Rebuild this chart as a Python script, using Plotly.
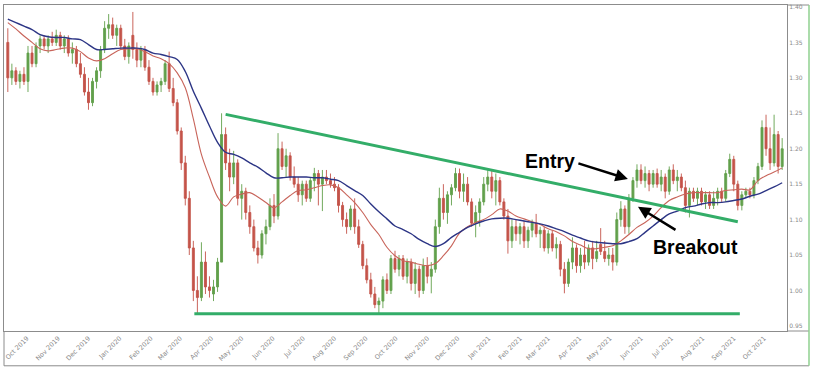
import plotly.graph_objects as go
import pandas as pd

# ---------------- data ----------------
opens = [1.35,1.30,1.31,1.295,1.305,1.295,1.335,1.32,1.345,1.355,
         1.345,1.355,1.35,1.36,1.345,1.355,1.335,1.34,1.32,1.305,
         1.28,1.265,1.295,1.31,1.34,1.37,1.375,1.36,1.37,1.345,
         1.33,1.36,1.34,1.325,1.34,1.315,1.295,1.28,1.29,1.295,
         1.32,1.285,1.265,1.225,1.18,1.13,1.06,1.0,0.99,1.04,
         1.005,0.995,1.005,1.04,1.22,1.18,1.16,1.18,1.13,1.14,
         1.11,1.09,1.06,1.05,1.08,1.09,1.12,1.105,1.20,1.175,
         1.19,1.16,1.15,1.135,1.15,1.13,1.155,1.165,1.15,1.16,
         1.155,1.15,1.145,1.12,1.10,1.09,1.115,1.09,1.065,1.035,
         1.015,0.995,0.98,0.985,1.015,1.0,1.045,1.03,1.045,1.02,
         1.04,1.01,1.03,1.0,1.035,1.02,1.03,1.09,1.13,1.11,
         1.135,1.145,1.165,1.14,1.15,1.125,1.095,1.11,1.125,1.15,
         1.16,1.14,1.155,1.125,1.105,1.07,1.09,1.08,1.09,1.07,
         1.085,1.095,1.08,1.085,1.06,1.08,1.06,1.065,1.03,1.01,
         1.04,1.06,1.035,1.05,1.04,1.06,1.045,1.065,1.055,1.045,
         1.05,1.04,1.10,1.115,1.09,1.13,1.155,1.17,1.155,1.165,
         1.15,1.165,1.15,1.16,1.14,1.17,1.155,1.16,1.145,1.12,
         1.14,1.13,1.14,1.125,1.135,1.12,1.13,1.14,1.13,1.165,
         1.185,1.15,1.12,1.135,1.14,1.135,1.155,1.175,1.23,1.20,
         1.18,1.22,1.175]
highs = [1.37,1.32,1.315,1.31,1.315,1.345,1.345,1.35,1.36,1.36,
         1.36,1.365,1.368,1.365,1.36,1.36,1.35,1.345,1.335,1.315,
         1.30,1.30,1.315,1.345,1.38,1.39,1.385,1.375,1.375,1.355,
         1.35,1.393,1.35,1.345,1.345,1.325,1.30,1.295,1.30,1.325,
         1.337,1.30,1.27,1.23,1.19,1.14,1.07,1.02,1.068,1.055,
         1.02,1.015,1.046,1.25,1.23,1.20,1.197,1.185,1.15,1.145,
         1.12,1.10,1.07,1.085,1.10,1.13,1.136,1.222,1.21,1.20,
         1.195,1.175,1.16,1.155,1.155,1.16,1.173,1.17,1.17,1.17,
         1.165,1.16,1.15,1.125,1.11,1.12,1.13,1.10,1.07,1.045,
         1.025,1.005,0.99,1.02,1.024,1.05,1.056,1.05,1.05,1.045,
         1.045,1.04,1.035,1.045,1.047,1.04,1.10,1.145,1.15,1.14,
         1.15,1.173,1.172,1.165,1.16,1.13,1.12,1.13,1.16,1.171,
         1.17,1.165,1.16,1.13,1.115,1.10,1.10,1.095,1.098,1.09,
         1.10,1.108,1.09,1.09,1.085,1.085,1.075,1.07,1.04,1.045,
         1.075,1.065,1.06,1.07,1.065,1.07,1.07,1.088,1.07,1.06,
         1.06,1.11,1.126,1.12,1.136,1.16,1.178,1.178,1.175,1.17,
         1.17,1.172,1.17,1.165,1.175,1.178,1.17,1.165,1.155,1.145,
         1.145,1.145,1.145,1.14,1.14,1.14,1.145,1.145,1.17,1.193,
         1.19,1.155,1.14,1.145,1.145,1.16,1.18,1.24,1.248,1.23,
         1.248,1.225,1.215]
lows = [1.28,1.29,1.29,1.285,1.29,1.28,1.315,1.315,1.335,1.34,
        1.335,1.345,1.345,1.34,1.335,1.33,1.32,1.315,1.30,1.275,
        1.255,1.26,1.285,1.30,1.335,1.355,1.355,1.345,1.34,1.325,
        1.32,1.327,1.315,1.315,1.31,1.29,1.275,1.275,1.28,1.29,
        1.28,1.26,1.22,1.17,1.12,1.05,0.985,0.968,0.985,0.995,
        0.99,0.985,0.998,1.04,1.17,1.14,1.15,1.12,1.10,1.10,
        1.08,1.055,1.038,1.045,1.065,1.085,1.095,1.10,1.17,1.16,
        1.155,1.145,1.125,1.12,1.125,1.125,1.14,1.12,1.112,1.15,
        1.145,1.14,1.11,1.09,1.08,1.085,1.08,1.06,1.03,1.01,
        0.99,0.975,0.968,0.975,0.995,0.995,1.025,1.02,1.015,1.01,
        1.0,0.995,0.99,0.995,1.01,0.996,1.025,1.08,1.10,1.094,
        1.12,1.14,1.13,1.125,1.12,1.09,1.075,1.09,1.12,1.14,
        1.13,1.12,1.12,1.10,1.052,1.06,1.07,1.065,1.06,1.06,
        1.075,1.075,1.06,1.055,1.052,1.055,1.045,1.02,0.996,1.005,
        1.03,1.025,1.025,1.03,1.035,1.03,1.04,1.05,1.04,1.035,
        1.028,1.035,1.09,1.08,1.08,1.125,1.145,1.15,1.145,1.14,
        1.145,1.145,1.14,1.13,1.135,1.15,1.14,1.14,1.11,1.103,
        1.125,1.12,1.12,1.115,1.115,1.115,1.12,1.125,1.125,1.16,
        1.14,1.113,1.113,1.13,1.13,1.13,1.15,1.17,1.19,1.17,
        1.175,1.165,1.17]
closes = [1.30,1.31,1.295,1.305,1.295,1.335,1.32,1.345,1.355,1.345,
          1.355,1.35,1.36,1.345,1.355,1.335,1.34,1.32,1.305,1.28,
          1.265,1.295,1.31,1.34,1.37,1.375,1.36,1.37,1.345,1.33,
          1.345,1.34,1.325,1.34,1.315,1.295,1.28,1.29,1.295,1.32,
          1.285,1.265,1.225,1.18,1.13,1.06,1.0,0.99,1.04,1.005,
          1.0,1.005,1.04,1.22,1.18,1.16,1.18,1.13,1.14,1.11,
          1.09,1.06,1.05,1.08,1.09,1.12,1.105,1.20,1.175,1.19,
          1.16,1.15,1.135,1.15,1.13,1.155,1.165,1.15,1.16,1.155,
          1.15,1.145,1.12,1.10,1.09,1.115,1.09,1.065,1.035,1.015,
          0.995,0.98,0.985,1.015,1.0,1.045,1.03,1.045,1.02,1.04,
          1.01,1.03,1.0,1.035,1.02,1.03,1.09,1.13,1.11,1.135,
          1.145,1.165,1.14,1.15,1.125,1.095,1.11,1.125,1.15,1.16,
          1.14,1.155,1.125,1.105,1.07,1.09,1.08,1.09,1.07,1.085,
          1.095,1.08,1.085,1.06,1.08,1.06,1.065,1.03,1.01,1.04,
          1.06,1.035,1.05,1.04,1.06,1.045,1.055,1.055,1.045,1.05,
          1.04,1.10,1.115,1.09,1.13,1.155,1.17,1.155,1.165,1.15,
          1.165,1.15,1.16,1.14,1.17,1.155,1.16,1.145,1.12,1.14,
          1.13,1.14,1.125,1.135,1.12,1.13,1.14,1.13,1.165,1.185,
          1.15,1.12,1.135,1.14,1.135,1.155,1.175,1.23,1.20,1.18,
          1.22,1.175,1.20]

# fast (red) and slow (blue) moving averages, sampled every second bar
ma_fast = [1.378,1.369,1.359,1.350,1.341,1.338,1.340,1.342,1.342,1.337,
           1.328,1.324,1.327,1.334,1.340,1.341,1.341,1.337,1.331,1.327,
           1.320,1.307,1.286,1.242,1.192,1.160,1.132,1.119,1.132,1.136,
           1.138,1.132,1.124,1.117,1.125,1.134,1.141,1.142,1.145,1.148,
           1.149,1.145,1.135,1.124,1.110,1.093,1.079,1.061,1.049,1.042,
           1.040,1.037,1.035,1.038,1.049,1.063,1.081,1.090,1.096,1.100,
           1.107,1.115,1.112,1.105,1.101,1.097,1.093,1.087,1.083,1.077,
           1.069,1.064,1.059,1.059,1.061,1.063,1.070,1.079,1.089,1.096,
           1.105,1.117,1.127,1.132,1.136,1.138,1.138,1.138,1.138,1.141,
           1.142,1.143,1.142,1.155,1.162,1.167,1.173]
ma_slow = [1.383,1.378,1.373,1.368,1.361,1.358,1.357,1.357,1.355,1.354,
           1.347,1.340,1.340,1.341,1.342,1.342,1.342,1.340,1.335,1.333,
           1.330,1.326,1.309,1.281,1.257,1.232,1.209,1.195,1.192,1.187,
           1.180,1.174,1.166,1.159,1.159,1.160,1.160,1.160,1.159,1.159,
           1.157,1.155,1.148,1.141,1.134,1.122,1.111,1.101,1.091,1.086,
           1.080,1.072,1.066,1.062,1.066,1.075,1.082,1.089,1.094,1.098,
           1.101,1.102,1.102,1.100,1.098,1.096,1.094,1.091,1.087,1.083,
           1.078,1.074,1.070,1.068,1.067,1.066,1.066,1.069,1.073,1.082,
           1.091,1.100,1.108,1.112,1.117,1.119,1.122,1.124,1.124,1.125,
           1.127,1.129,1.133,1.136,1.141,1.146,1.152]

# trend lines of the triangle
upper_dates = ["2020-04-15", "2021-09-05"]
upper_values = [1.2485, 1.097]
lower_dates = ["2020-03-15", "2021-09-07"]
lower_values = [0.967, 0.967]

# annotations
entry_point = ("2021-05-19", 1.1574)
entry_text_pos = ("2021-03-02 18:00", 1.1826)
breakout_point = ("2021-05-29", 1.118)
breakout_text_pos = ("2021-07-24 14:00", 1.062)

y_ticks = [0.95, 1.00, 1.05, 1.10, 1.15, 1.20, 1.25, 1.30, 1.35, 1.40]

# ---------------- figure ----------------
bar_dates = pd.date_range("2019-09-12", periods=len(closes), freq="4D")
ma_dates = bar_dates[::2]

GREEN = "#62a04c"
RED = "#c4544a"
TREND = "#33ad68"

fig = go.Figure()
fig.add_trace(go.Candlestick(
    x=bar_dates, open=opens, high=highs, low=lows, close=closes,
    increasing=dict(line=dict(color=GREEN, width=0.9), fillcolor=GREEN),
    decreasing=dict(line=dict(color=RED, width=0.9), fillcolor=RED),
    whiskerwidth=0, showlegend=False, hoverinfo="skip"))
fig.add_trace(go.Scatter(x=ma_dates, y=ma_fast, mode="lines",
                         line=dict(color="#c8645a", width=1.1, shape="spline"),
                         showlegend=False, hoverinfo="skip"))
fig.add_trace(go.Scatter(x=ma_dates, y=ma_slow, mode="lines",
                         line=dict(color="#2c3585", width=1.4, shape="spline"),
                         showlegend=False, hoverinfo="skip"))
fig.add_trace(go.Scatter(x=upper_dates, y=upper_values, mode="lines",
                         line=dict(color=TREND, width=3),
                         showlegend=False, hoverinfo="skip"))
fig.add_trace(go.Scatter(x=lower_dates, y=lower_values, mode="lines",
                         line=dict(color=TREND, width=3),
                         showlegend=False, hoverinfo="skip"))

label_font = dict(family="Liberation Sans", size=19.5, color="black")
fig.add_annotation(x=entry_text_pos[0], y=entry_text_pos[1], text="<b>Entry</b>",
                   showarrow=False, font=label_font, xanchor="center", yanchor="middle")
fig.add_annotation(x=breakout_text_pos[0], y=breakout_text_pos[1], text="<b>Breakout</b>",
                   showarrow=False, font=label_font, xanchor="center", yanchor="middle")
fig.add_annotation(x=entry_point[0], y=entry_point[1], text="", showarrow=True,
                   ax=-51, ay=-16, arrowhead=2, arrowsize=1, arrowwidth=2.5,
                   arrowcolor="black", standoff=0)
fig.add_annotation(x=breakout_point[0], y=breakout_point[1], text="", showarrow=True,
                   ax=39, ay=24, arrowhead=2, arrowsize=1, arrowwidth=2.5,
                   arrowcolor="black", standoff=0)

FRAME = "#8c8c8c"
# frame of the date panel and price scale (paper coordinates)
L, T, B, R = 4, 3, 331, 787
W = R - L
H = B - T
def px(xp):
    return (xp - L) / W
def py(yp):
    return (B - yp) / H
fig.add_shape(type="line", xref="paper", yref="paper", x0=px(4), x1=px(809),
              y0=py(366), y1=py(366), line=dict(color=FRAME, width=1))
fig.add_shape(type="line", xref="paper", yref="paper", x0=px(4), x1=px(4),
              y0=py(331), y1=py(366), line=dict(color=FRAME, width=1))
fig.add_shape(type="line", xref="paper", yref="paper", x0=px(787), x1=px(809),
              y0=py(331), y1=py(331), line=dict(color=FRAME, width=1))
fig.add_shape(type="line", xref="paper", yref="paper", x0=px(787), x1=px(809),
              y0=py(3), y1=py(3), line=dict(color=FRAME, width=1))
fig.add_shape(type="line", xref="paper", yref="paper", x0=px(809), x1=px(809),
              y0=py(3), y1=py(366), line=dict(color="#8fd08f", width=1.5))

fig.update_layout(
    width=813, height=371,
    margin=dict(l=L, r=813 - R, t=T, b=371 - B),
    paper_bgcolor="white", plot_bgcolor="white",
    xaxis=dict(type="date", range=["2019-09-08 05:00", "2021-10-23 19:00"],
               showgrid=False, zeroline=False, rangeslider=dict(visible=False),
               tickformat="%b %Y", dtick="M1", tick0="2019-10-01",
               tickangle=-45, ticks="",
               tickfont=dict(family="DejaVu Sans", size=6.5, color="#8a8a8a"),
               showline=True, mirror=True, linecolor=FRAME, linewidth=1),
    yaxis=dict(side="right", range=[0.9428, 1.4028], tickvals=y_ticks,
               tickformat=".2f", showgrid=False, zeroline=False, ticks="",
               tickfont=dict(family="DejaVu Sans", size=6, color="#8a8a8a"),
               showline=True, mirror=True, linecolor=FRAME, linewidth=1),
)

fig.write_html("out.html")
